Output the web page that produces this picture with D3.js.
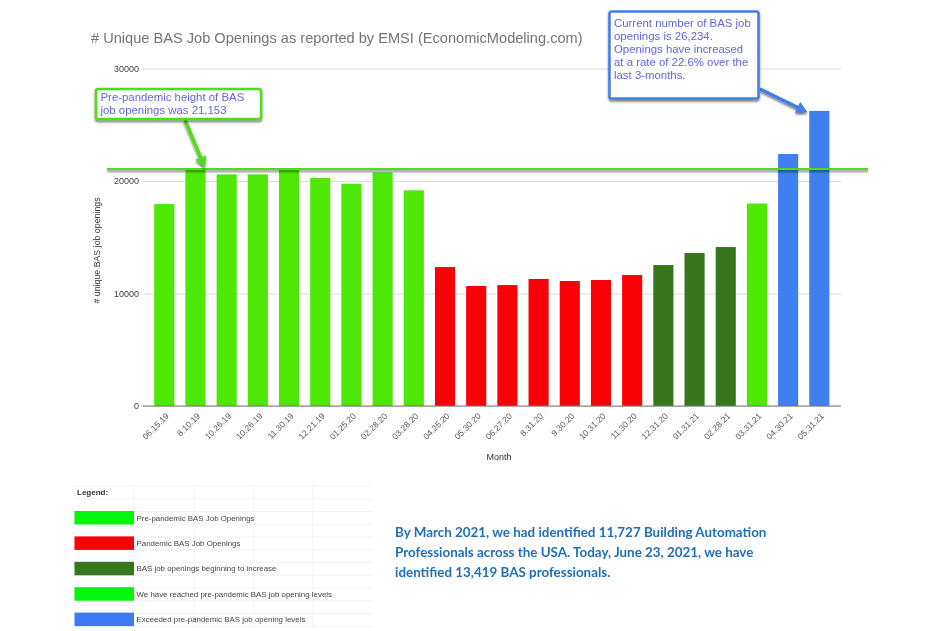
<!DOCTYPE html>
<html>
<head>
<meta charset="utf-8">
<script src="https://cdn.jsdelivr.net/npm/d3@7"></script>
<style>
  html, body { margin: 0; padding: 0; background: #fff; overflow: hidden; }
  svg { display: block; filter: blur(0.35px); }
  text { font-family: "Liberation Sans", Arial, sans-serif; }
</style>
</head>
<body>
<svg id="chart" width="936" height="631"></svg>
<script>
var months = ["06.15.19", "8.10.19", "10.26.19", "10.26.19", "11.30.19", "12.21.19", "01.25.20", "02.28.20", "03.28.20", "04.25.20", "05.30.20", "06.27.20", "8.31.20", "9.30.20", "10.31.20", "11.30.20", "12.31.20", "01.31.21", "02.28.21", "03.31.21", "04.30.21", "05.31.21"];
var openings = [17950, 21153, 20590, 20590, 21100, 20270, 19760, 20770, 19170, 12350, 10670, 10750, 11290, 11110, 11200, 11640, 12530, 13600, 14130, 18000, 22400, 26234];
var phases = ["pre", "pre", "pre", "pre", "pre", "pre", "pre", "pre", "pre", "pan", "pan", "pan", "pan", "pan", "pan", "pan", "rise", "rise", "rise", "pre", "over", "over"];
var yTicks = [0, 10000, 20000, 30000];
var legendLabels = ["Pre-pandemic BAS Job Openings", "Pandemic BAS Job Openings", "BAS job openings beginning to increase", "We have reached pre-pandemic BAS job opening levels", "Exceeded pre-pandemic BAS job opening levels"];
var legendColors = ["#00f70a", "#fb0006", "#38761d", "#00f70a", "#3c7cf0"];
var greenNote = ["Pre-pandemic height of BAS", "job openings was 21,153"];
var blueNote = ["Current number of BAS job", "openings is 26,234.", "Openings have increased", "at a rate of 22.6% over the", "last 3-months."];
var footNote = ["By March 2021, we had identified 11,727 Building Automation", "Professionals across the USA. Today, June 23, 2021, we have", "identified 13,419 BAS professionals."];
var prePandemicLine = 21060;

var phaseColor = d3.scaleOrdinal()
  .domain(["pre", "pan", "rise", "over"])
  .range(["#4de805", "#fb0006", "#38761d", "#3f7ff0"]);

var svg = d3.select("#chart");

// userSpaceOnUse, a flat line has an empty bounding box
var defs = svg.append("defs");
defs.append("filter")
  .attr("id", "shadow")
  .attr("filterUnits", "userSpaceOnUse")
  .attr("x", 0).attr("y", 0).attr("width", 936).attr("height", 631)
  .append("feDropShadow")
  .attr("dx", 0).attr("dy", 2).attr("stdDeviation", 1.2)
  .attr("flood-color", "#000").attr("flood-opacity", 0.5);

var yScale = d3.scaleLinear().domain([0, 30000]).range([406, 68.5]);
var xScale = d3.scaleBand()
  .domain(d3.range(months.length))
  .range([148.6, 835])
  .paddingInner(0.355)
  .paddingOuter(0.18);

svg.append("text")
  .attr("x", 91).attr("y", 42.5)
  .attr("font-size", 14.6).attr("fill", "#757575")
  .text("# Unique BAS Job Openings as reported by EMSI (EconomicModeling.com)");

// y axis with the gridlines
var yAxis = d3.axisLeft(yScale)
  .tickValues(yTicks)
  .tickFormat(d3.format("d"))
  .tickSize(-698)
  .tickPadding(4);
var yG = svg.append("g")
  .attr("transform", "translate(143,0)")
  .call(yAxis);
yG.select(".domain").remove();
yG.selectAll("line").attr("stroke", "#dcdcdc");
yG.selectAll("text").attr("font-size", 9).attr("fill", "#3c3c3c");

// bars
svg.append("g").selectAll("rect")
  .data(openings)
  .enter()
  .append("rect")
  .attr("x", function(d, i) { return xScale(i); })
  .attr("y", function(d) { return yScale(d); })
  .attr("width", xScale.bandwidth())
  .attr("height", function(d) { return yScale(0) - yScale(d); })
  .attr("fill", function(d, i) { return phaseColor(phases[i]); });

// x axis
var xAxis = d3.axisBottom(xScale)
  .tickFormat(function(i) { return months[i]; })
  .tickSize(0);
var xG = svg.append("g")
  .attr("transform", "translate(0,406)")
  .call(xAxis);
xG.select(".domain").remove();
xG.selectAll("text")
  .attr("font-size", 8.5)
  .attr("fill", "#555")
  .attr("text-anchor", "end")
  .attr("dy", 0)
  .attr("transform", "translate(3,8.5) rotate(-45)");
svg.append("line")
  .attr("x1", 143).attr("x2", 841)
  .attr("y1", yScale(0)).attr("y2", yScale(0))
  .attr("stroke", "#777").attr("stroke-width", 1);

svg.append("text")
  .attr("x", 499).attr("y", 460)
  .attr("text-anchor", "middle")
  .attr("font-size", 9).attr("fill", "#333")
  .text("Month");
svg.append("text")
  .attr("transform", "translate(100,250.5) rotate(-90)")
  .attr("text-anchor", "middle")
  .attr("font-size", 8.8).attr("fill", "#333")
  .text("# unique BAS job openings");

// pre-pandemic reference line
svg.append("line")
  .attr("x1", 107).attr("x2", 868)
  .attr("y1", yScale(prePandemicLine)).attr("y2", yScale(prePandemicLine))
  .attr("stroke", "#4fdc1a").attr("stroke-width", 2)
  .attr("filter", "url(#shadow)");

function callout(note, box, firstLine, lineHeight, color, arrow) {
  var g = svg.append("g");
  g.append("line")
    .attr("x1", arrow[0]).attr("y1", arrow[1])
    .attr("x2", arrow[2]).attr("y2", arrow[3])
    .attr("stroke", color).attr("stroke-width", 3.5)
    .attr("filter", "url(#shadow)");
  var dx = arrow[2] - arrow[0], dy = arrow[3] - arrow[1];
  var len = Math.sqrt(dx * dx + dy * dy);
  var ux = dx / len, uy = dy / len;
  var tipX = arrow[2] + ux * 5, tipY = arrow[3] + uy * 5;
  g.append("path")
    .attr("d", d3.line()([
      [tipX, tipY],
      [arrow[2] - ux * 6 - uy * 6, arrow[3] - uy * 6 + ux * 6],
      [arrow[2] - ux * 6 + uy * 6, arrow[3] - uy * 6 - ux * 6]
    ]) + "Z")
    .attr("fill", color)
    .attr("filter", "url(#shadow)");
  g.append("rect")
    .attr("x", box.x).attr("y", box.y)
    .attr("width", box.w).attr("height", box.h)
    .attr("rx", 2)
    .attr("fill", "#fff")
    .attr("stroke", color).attr("stroke-width", 2.5)
    .attr("filter", "url(#shadow)");
  g.selectAll("text")
    .data(note)
    .enter()
    .append("text")
    .attr("x", box.x + 4.5)
    .attr("y", function(d, i) { return firstLine + i * lineHeight; })
    .attr("font-size", 11.4)
    .attr("fill", "#6464e0")
    .text(function(d) { return d; });
}

callout(greenNote, { x: 96, y: 89, w: 165, h: 30 }, 101.2, 13.2, "#4fdc1a", [185, 120, 203, 163]);
callout(blueNote, { x: 609.5, y: 11.5, w: 149, h: 87 }, 26.7, 13, "#3f7ee8", [760, 89, 803, 110]);

// legend table
var legend = svg.append("g");
var rowLines = d3.range(0, 12).map(function(i) { return 486 + i * 12.75; });
legend.selectAll(".rowLine")
  .data(rowLines)
  .enter()
  .append("line")
  .attr("class", "rowLine")
  .attr("x1", 74).attr("x2", 373)
  .attr("y1", function(d) { return d; }).attr("y2", function(d) { return d; })
  .attr("stroke", "#f2f2f2");
legend.selectAll(".colLine")
  .data([134, 194, 254, 313])
  .enter()
  .append("line")
  .attr("class", "colLine")
  .attr("x1", function(d) { return d; }).attr("x2", function(d) { return d; })
  .attr("y1", 486).attr("y2", 626)
  .attr("stroke", "#f2f2f2");
legend.append("text")
  .attr("x", 77).attr("y", 495)
  .attr("font-size", 8).attr("font-weight", "bold").attr("fill", "#333")
  .text("Legend:");
legend.selectAll(".swatch")
  .data(legendColors)
  .enter()
  .append("rect")
  .attr("class", "swatch")
  .attr("x", 74.5).attr("width", 59.5)
  .attr("y", function(d, i) { return 511 + i * 25.4; })
  .attr("height", 13.5)
  .attr("fill", function(d) { return d; });
legend.selectAll(".label")
  .data(legendLabels)
  .enter()
  .append("text")
  .attr("class", "label")
  .attr("x", 136.5)
  .attr("y", function(d, i) { return 520.5 + i * 25.4; })
  .attr("font-size", 7.9)
  .attr("fill", "#444")
  .text(function(d) { return d; });

// note under the chart
svg.append("g").selectAll("text")
  .data(footNote)
  .enter()
  .append("text")
  .attr("x", 395)
  .attr("y", function(d, i) { return 537 + i * 20; })
  .attr("style", "font-family: Lato, sans-serif")
  .attr("font-weight", "bold")
  .attr("font-size", 13.4)
  .attr("fill", "#1f6fb8")
  .text(function(d) { return d; });
</script>
</body>
</html>
